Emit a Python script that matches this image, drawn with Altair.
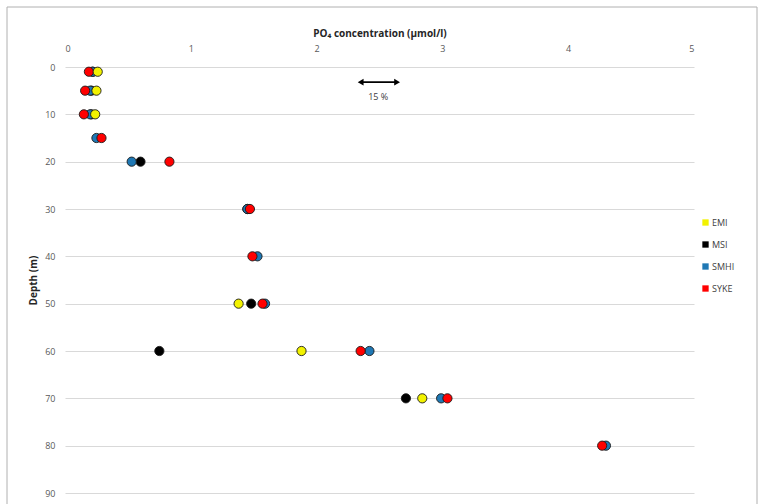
import altair as alt
import pandas as pd

depths = [1, 5, 10, 15, 20, 30, 40, 50, 60, 70, 80]
labs = ["EMI", "MSI", "SMHI", "SYKE"]
lab_colors = ["#f2f200", "#000000", "#1f78b4", "#ff0000"]
emi = [0.26, 0.25, 0.24, None, None, None, None, 1.38, 1.88, 2.84, None]
msi = [0.22, 0.21, 0.21, None, 0.60, 1.45, None, 1.48, 0.75, 2.71, None]
smhi = [0.22, 0.20, 0.20, 0.25, 0.53, 1.45, 1.53, 1.59, 2.42, 2.99, 4.30]
syke = [0.19, 0.16, 0.15, 0.29, 0.83, 1.47, 1.49, 1.57, 2.35, 3.04, 4.27]

x_ticks = [0, 1, 2, 3, 4, 5]
y_ticks = [0, 10, 20, 30, 40, 50, 60, 70, 80, 90]

arrow_x = [2.35, 2.64]
arrow_depth = 3.2
arrow_text = "15 %"
arrow_text_x = 2.49
arrow_text_depth = 6.4

rows = []
for lab, vals in [("MSI", msi), ("SMHI", smhi), ("SYKE", syke), ("EMI", emi)]:
    for d, v in zip(depths, vals):
        if v is not None:
            rows.append({"lab": lab, "depth": d, "po4": v})
df = pd.DataFrame(rows)

FONT = "Open Sans"

xscale = alt.Scale(domain=[0, 5], nice=False)
yscale = alt.Scale(domain=[0, 90], reverse=True, nice=False)

points = alt.Chart(df).mark_point(
    filled=True, size=85, stroke="#1a1a1a", strokeWidth=0.9, opacity=1, shape="circle"
).encode(
    x=alt.X("po4:Q", scale=xscale,
            axis=alt.Axis(orient="top", values=x_ticks, format="d",
                          title="PO₄ concentration (µmol/l)",
                          grid=False, domain=False, ticks=False, labelPadding=14,
                          labelFontSize=9, labelColor="#595959", labelFont=FONT,
                          titleFont=FONT, titleFontSize=10, titleFontWeight="bold",
                          titleColor="#262626", titlePadding=6)),
    y=alt.Y("depth:Q", scale=yscale,
            axis=alt.Axis(values=y_ticks, title="Depth (m)", grid=True, gridColor="#d9d9d9",
                          gridWidth=1, domain=False, ticks=False, labelPadding=10,
                          labelFontSize=9, labelColor="#595959", labelFont=FONT,
                          titleFont=FONT, titleFontSize=10, titleFontWeight="bold",
                          titleColor="#262626", titlePadding=6)),
    color=alt.Color("lab:N", scale=alt.Scale(domain=labs, range=lab_colors),
                    legend=alt.Legend(title=None, orient="none", legendX=636, legendY=151,
                                      symbolType="square", symbolSize=40, symbolStrokeWidth=0,
                                      labelFontSize=9, labelFont=FONT, labelColor="#404040",
                                      rowPadding=12, labelOffset=2)),
)

arrow_df = pd.DataFrame({"x1": [arrow_x[0]], "x2": [arrow_x[1]], "d": [arrow_depth]})
arrow_line = alt.Chart(arrow_df).mark_rule(color="#000000", strokeWidth=1.8).encode(
    x=alt.X("x1:Q", scale=xscale), x2="x2:Q", y=alt.Y("d:Q", scale=yscale)
)
heads_df = pd.DataFrame({
    "x": arrow_x, "d": [arrow_depth, arrow_depth],
    "shape": ["triangle-left", "triangle-right"],
})
arrow_heads = alt.Chart(heads_df).mark_point(filled=True, color="#000000", size=45, opacity=1).encode(
    x=alt.X("x:Q", scale=xscale), y=alt.Y("d:Q", scale=yscale),
    shape=alt.Shape("shape:N", scale=None, legend=None),
)
text_df = pd.DataFrame({"x": [arrow_text_x], "d": [arrow_text_depth], "t": [arrow_text]})
arrow_label = alt.Chart(text_df).mark_text(fontSize=9, font=FONT, color="#404040").encode(
    x=alt.X("x:Q", scale=xscale), y=alt.Y("d:Q", scale=yscale), text="t:N"
)

frame = alt.Chart(pd.DataFrame({"a": [0]})).mark_rect(
    fill=None, stroke="#b0b0b0", strokeWidth=1
).encode(
    x=alt.value(-58), x2=alt.value(692), y=alt.value(-60), y2=alt.value(460)
)

chart = alt.layer(frame, arrow_line, arrow_heads, arrow_label, points).properties(
    width=629, height=426,
    autosize=alt.AutoSizeParams(type="none"),
    padding={"left": 65, "top": 67, "right": 69, "bottom": 11},
    background="white",
).configure_view(stroke=None)

chart.save("out.html", embed_options={"renderer": "svg", "actions": False})
